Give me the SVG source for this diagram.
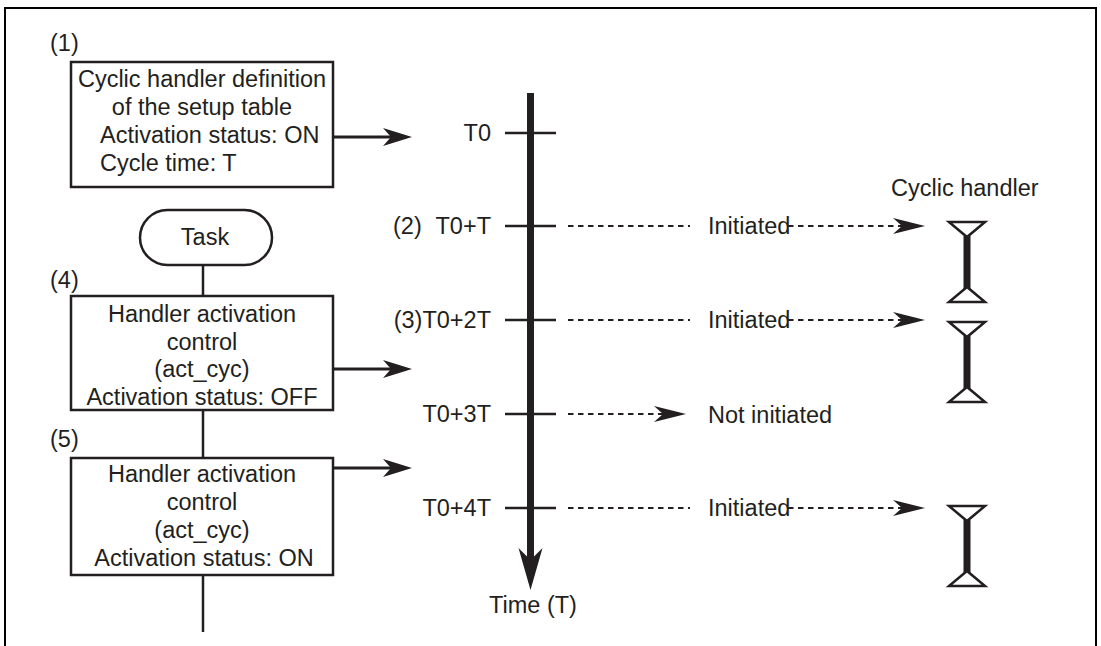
<svg xmlns="http://www.w3.org/2000/svg" width="1101" height="646" viewBox="0 0 1101 646">
  <style>
    text { font-family: "Liberation Sans", Arial, sans-serif; font-size: 23.5px; fill: #231f20; }
    .c { text-anchor: middle; }
    .e { text-anchor: end; }
    .box { fill: #fff; stroke: #231f20; stroke-width: 2.5; }
    .link { fill: none; stroke: #231f20; stroke-width: 2.5; }
    .push { fill: none; stroke: #231f20; stroke-width: 3; }
    .tick { fill: none; stroke: #231f20; stroke-width: 2.5; }
    .dash { fill: none; stroke: #231f20; stroke-width: 2; stroke-dasharray: 5.5 4.5; }
  </style>
  <defs>
    <marker id="solidHead" markerUnits="userSpaceOnUse" viewBox="0 -10 30 20" markerWidth="30" markerHeight="20" refX="8" refY="0" orient="auto">
      <path d="M0,-9 L29,0 L0,9 L8,0 Z" fill="#231f20"/>
    </marker>
    <marker id="dashHead" markerUnits="userSpaceOnUse" viewBox="0 -9 33 18" markerWidth="33" markerHeight="18" refX="9" refY="0" orient="auto">
      <path d="M0,-8 L32,0 L0,8 L9,0 Z" fill="#231f20"/>
    </marker>
    <marker id="axisHead" markerUnits="userSpaceOnUse" viewBox="0 -13 43 26" markerWidth="43" markerHeight="26" refX="12" refY="0" orient="auto">
      <path d="M0,-12 L42,0 L0,12 L12,0 Z" fill="#231f20"/>
    </marker>
    <!-- one run of the cyclic handler: inverted triangle, bar, upright triangle -->
    <g id="handlerRun">
      <rect x="963.5" y="14" width="7" height="53" fill="#231f20"/>
      <polygon points="949,0 985,0 967,15" fill="#fff" stroke="#231f20" stroke-width="2.5" stroke-linejoin="miter"/>
      <polygon points="967,65 949,80 985,80" fill="#fff" stroke="#231f20" stroke-width="2.5" stroke-linejoin="miter"/>
    </g>
  </defs>

  <!-- outer frame (open at the bottom) -->
  <path d="M5,646 V8 H1096 V646" fill="none" stroke="#000" stroke-width="2"/>

  <!-- connectors -->
  <g id="connectors">
    <line class="link" x1="203" y1="265" x2="203" y2="296"/>
    <line class="link" x1="203" y1="410" x2="203" y2="458"/>
    <line class="link" x1="203" y1="575" x2="203" y2="632"/>
    <line class="push" x1="333" y1="137" x2="391" y2="137" marker-end="url(#solidHead)"/>
    <line class="push" x1="333" y1="369" x2="391" y2="369" marker-end="url(#solidHead)"/>
    <line class="push" x1="333" y1="468" x2="391" y2="468" marker-end="url(#solidHead)"/>
    <!-- dashed initiation arrows -->
    <line class="dash" x1="568" y1="226" x2="690" y2="226"/>
    <line class="dash" x1="788" y1="226" x2="902" y2="226" marker-end="url(#dashHead)"/>
    <line class="dash" x1="568" y1="320" x2="690" y2="320"/>
    <line class="dash" x1="788" y1="320" x2="902" y2="320" marker-end="url(#dashHead)"/>
    <line class="dash" x1="568" y1="414" x2="663" y2="414" marker-end="url(#dashHead)"/>
    <line class="dash" x1="568" y1="508" x2="690" y2="508"/>
    <line class="dash" x1="788" y1="508" x2="902" y2="508" marker-end="url(#dashHead)"/>
  </g>

  <!-- (1) setup table definition -->
  <g id="setup-table">
    <text x="50" y="51">(1)</text>
    <rect class="box" x="71" y="62" width="262" height="125"/>
    <text class="c" x="202" y="87">Cyclic handler definition</text>
    <text class="c" x="202" y="115">of the setup table</text>
    <text x="100" y="143">Activation status: ON</text>
    <text x="100" y="171">Cycle time: T</text>
  </g>

  <!-- task terminal -->
  <g id="task">
    <rect class="box" x="140" y="210" width="132" height="55" rx="27.5"/>
    <text class="c" x="205" y="245">Task</text>
  </g>

  <!-- (4) act_cyc OFF -->
  <g id="act-cyc-off">
    <text x="50" y="288">(4)</text>
    <rect class="box" x="71" y="296" width="262" height="114"/>
    <text class="c" x="202" y="322">Handler activation</text>
    <text class="c" x="202" y="350">control</text>
    <text class="c" x="202" y="377">(act_cyc)</text>
    <text class="c" x="202" y="405">Activation status: OFF</text>
  </g>

  <!-- (5) act_cyc ON -->
  <g id="act-cyc-on">
    <text x="50" y="447">(5)</text>
    <rect class="box" x="71" y="458" width="262" height="117"/>
    <text class="c" x="202" y="482">Handler activation</text>
    <text class="c" x="202" y="510">control</text>
    <text class="c" x="202" y="538">(act_cyc)</text>
    <text class="c" x="204" y="566">Activation status: ON</text>
  </g>

  <!-- time axis -->
  <g id="time-axis">
    <line x1="530.5" y1="93" x2="530.5" y2="560" stroke="#231f20" stroke-width="7" marker-end="url(#axisHead)"/>
    <line class="tick" x1="505" y1="133" x2="556" y2="133"/>
    <line class="tick" x1="505" y1="226" x2="556" y2="226"/>
    <line class="tick" x1="505" y1="320" x2="556" y2="320"/>
    <line class="tick" x1="505" y1="414" x2="556" y2="414"/>
    <line class="tick" x1="505" y1="508" x2="556" y2="508"/>
    <text class="e" x="491" y="141">T0</text>
    <text y="234"><tspan x="393">(2)</tspan><tspan x="491" class="e">T0+T</tspan></text>
    <text class="e" x="491" y="328">(3)T0+2T</text>
    <text class="e" x="491" y="422">T0+3T</text>
    <text class="e" x="491" y="516">T0+4T</text>
    <text class="c" x="533" y="613">Time (T)</text>
  </g>

  <!-- outcome labels -->
  <g id="outcomes">
    <text x="708" y="234">Initiated</text>
    <text x="708" y="328">Initiated</text>
    <text x="708" y="423">Not initiated</text>
    <text x="708" y="516">Initiated</text>
  </g>

  <!-- cyclic handler runs -->
  <g id="cyclic-handler">
    <text x="891" y="196">Cyclic handler</text>
    <use href="#handlerRun" transform="translate(0,222)"/>
    <use href="#handlerRun" transform="translate(0,322)"/>
    <use href="#handlerRun" transform="translate(0,506)"/>
  </g>
</svg>
